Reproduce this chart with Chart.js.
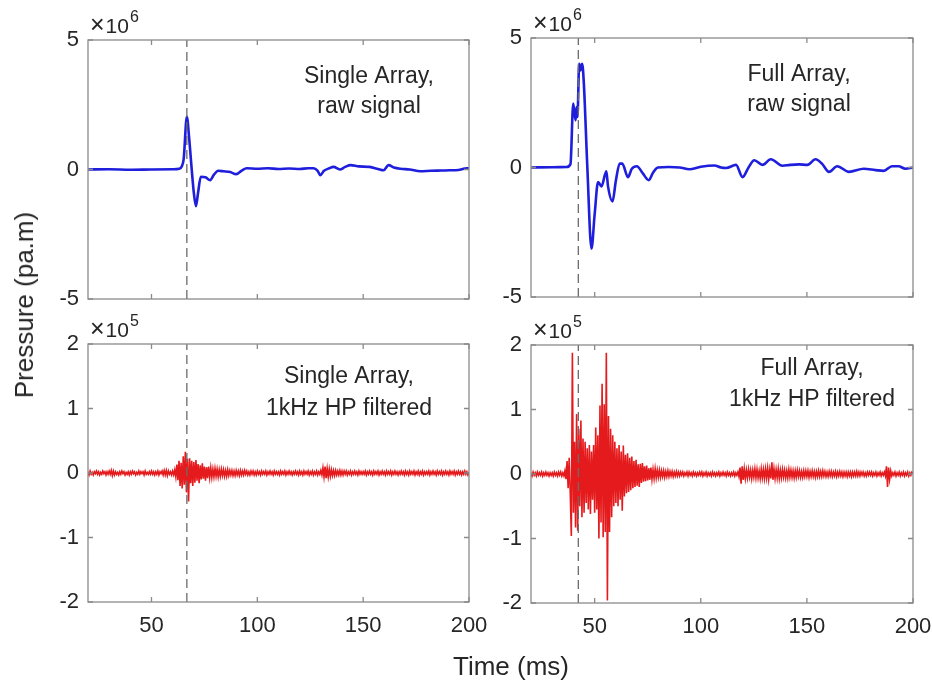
<!DOCTYPE html>
<html>
<head>
<meta charset="utf-8">
<script src="https://cdn.jsdelivr.net/npm/chart.js@4.4.0/dist/chart.umd.min.js"></script>
<style>
  body { margin: 0; background: #fff; }
  #wrap { position: relative; width: 932px; height: 683px; font-family: "Liberation Sans", Arial, sans-serif; color: #262626; }
  canvas { position: absolute; }
  .axis-label { position: absolute; font-size: 26px; line-height: 26px; white-space: nowrap; }
</style>
</head>
<body>
<div id="wrap">
  <canvas id="singleRaw" width="478" height="320" style="left:0;top:0"></canvas>
  <canvas id="fullRaw" width="454" height="320" style="left:478px;top:0"></canvas>
  <canvas id="singleHp" width="500" height="383" style="left:0;top:300px"></canvas>
  <canvas id="fullHp" width="454" height="383" style="left:478px;top:300px"></canvas>
  <div class="axis-label" id="ylab">Pressure (pa.m)</div>
  <div class="axis-label" id="xlab">Time (ms)</div>
</div>
<script>
// axes
const xTicks = [50, 100, 150, 200];
const rawYTicks = [-5, 0, 5];
const hpYTicks = [-2, -1, 0, 1, 2];

// arrival markers (ms)
const singleMarkerTime = 66.7;
const fullMarkerTime = 42.3;

// raw signals, x10^6 pa.m
const singleRawTime = [20, 30, 40, 50, 60, 63, 64.3, 65.2, 66.7, 67.8, 69, 70, 71, 72, 73.3, 75.5, 77.7, 79.5, 81.6, 84,
  87.2, 90, 92.5, 95, 100, 105, 110, 115, 120, 124, 126.5, 128.5, 129.7, 131.5, 134, 136, 139, 141.5, 144, 148,
  153, 157, 159.6, 162, 164.5, 167.6, 172, 177, 182, 187, 191, 195, 198, 200];
const singleRawValues = [0, 0.01, -0.01, 0, 0.01, 0.03, 0.12, 0.4, 2.03, 1.2, 0, -0.9, -1.42, -0.9, -0.28, -0.3, -0.41, -0.2, -0.05, -0.07,
  -0.1, -0.18, -0.05, 0.05, 0.03, 0.05, 0.02, 0.04, 0.02, 0.05, 0.05, -0.05, -0.22, -0.05, 0.05, 0.1, 0, 0.1, 0.17, 0.12,
  0.1, 0.02, -0.03, 0.17, 0.08, 0.03, 0, -0.07, -0.05, -0.04, -0.03, -0.02, 0.04, 0.05];

const fullRawTime = [20, 30, 36.8, 38.6, 39.9, 41, 41.5, 41.9, 42.7, 43.3, 44.1, 44.9, 46.5, 48.5, 50, 51.6, 53.2, 55.5, 56.3, 58.4,
  60, 61.8, 63, 65.7, 67.5, 69.9, 72.7, 75.5, 77.5, 79.8, 85, 90, 94.6, 100, 106.4, 109.5, 111.9, 116.6, 119.7, 122.5,
  125.2, 129.1, 133, 138.5, 142, 146.3, 150.2, 154.1, 157.2, 160.4, 164.3, 169.8, 176.8, 182.3, 186.2, 190.1, 193.2, 196.4, 200];
const fullRawValues = [0, 0.01, 0.02, 0.13, 2.47, 1.82, 2.33, 1.95, 4.0, 3.75, 4.0, 3.25, 0.1, -3.13, -1.8, -0.56, -0.73, -0.15, -0.73, -1.31,
  -0.5, 0.15, 0.15, -0.37, -0.05, 0.05, -0.23, -0.49, -0.2, 0, 0.02, 0, -0.07, 0.03, 0.08, 0, -0.02, 0.1, -0.37, 0,
  0.28, 0.1, 0.32, 0.07, 0.1, 0.12, 0.1, 0.32, 0.14, -0.17, 0.05, -0.17, -0.05, -0.1, -0.13, 0.05, 0.05, -0.05, 0];

// 1kHz high-pass signals, x10^5 pa.m, one sample every 0.5 ms from 20 ms
const hpStart = 20;
const hpStep = 0.5;
const singleHpValues = [
  0.02,-0.03,0.03,-0.02,0.01,-0.03,0.02,-0.01,0.03,-0.02,0.02,-0.03,0.01,-0.02,0.03,-0.01,0.02,-0.03,0.02,-0.02,
  0.03,-0.02,0.04,-0.04,0.03,-0.03,0.02,-0.02,0.01,-0.03,0.02,-0.02,0.03,-0.01,0.02,-0.03,0.01,-0.02,0.02,-0.03,
  0.02,-0.02,0.03,-0.01,0.02,-0.03,0.01,-0.02,0.03,-0.02,0.02,-0.01,0.02,-0.03,0.03,-0.02,0.01,-0.02,0.02,-0.02,
  0.03,-0.02,0.02,-0.03,0.02,-0.02,0.03,-0.03,0.02,-0.01,0.03,-0.03,0.04,-0.03,0.04,-0.04,0.03,-0.02,0.02,-0.03,
  0.03,-0.03,0.05,-0.06,0.13,-0.11,0.19,-0.2,0.16,-0.24,0.26,-0.18,0.33,-0.3,0.22,-0.44,0.23,-0.16,0.19,-0.2,
  0.17,-0.15,0.2,-0.12,0.14,-0.16,0.12,-0.1,0.15,-0.09,0.1,-0.12,0.09,-0.08,0.1,-0.07,0.08,-0.07,0.06,-0.06,
  0.07,-0.05,0.06,-0.06,0.05,-0.05,0.06,-0.04,0.05,-0.05,0.04,-0.05,0.05,-0.04,0.04,-0.03,0.04,-0.04,0.03,-0.04,
  0.04,-0.03,0.03,-0.04,0.04,-0.03,0.03,-0.03,0.04,-0.02,0.03,-0.03,0.02,-0.03,0.03,-0.02,0.03,-0.03,0.02,-0.03,
  0.03,-0.02,0.02,-0.03,0.03,-0.02,0.02,-0.02,0.03,-0.03,0.02,-0.02,0.03,-0.02,0.02,-0.03,0.03,-0.02,0.02,-0.02,
  0.02,-0.03,0.03,-0.02,0.02,-0.02,0.03,-0.03,0.02,-0.02,0.03,-0.02,0.02,-0.03,0.02,-0.02,0.03,-0.02,0.02,-0.03,
  0.03,-0.02,0.02,-0.03,0.03,-0.02,0.02,-0.02,0.03,-0.03,0.02,-0.02,0.03,-0.03,0.02,-0.02,0.03,-0.03,0.02,-0.02,
  0.04,-0.03,0.08,-0.06,0.1,-0.08,0.07,-0.06,0.06,-0.05,0.05,-0.04,0.04,-0.04,0.04,-0.03,0.03,-0.03,0.04,-0.03,
  0.03,-0.03,0.03,-0.02,0.03,-0.03,0.02,-0.02,0.03,-0.03,0.02,-0.02,0.03,-0.02,0.02,-0.03,0.03,-0.02,0.02,-0.02,
  0.02,-0.02,0.03,-0.03,0.02,-0.02,0.03,-0.02,0.02,-0.03,0.03,-0.02,0.02,-0.02,0.03,-0.03,0.02,-0.02,0.03,-0.02,
  0.02,-0.03,0.03,-0.02,0.02,-0.02,0.03,-0.03,0.02,-0.02,0.03,-0.02,0.02,-0.03,0.02,-0.02,0.03,-0.02,0.02,-0.03,
  0.03,-0.02,0.02,-0.03,0.03,-0.02,0.02,-0.02,0.03,-0.03,0.02,-0.02,0.03,-0.03,0.02,-0.02,0.03,-0.03,0.02,-0.02,
  0.02,-0.02,0.03,-0.03,0.02,-0.02,0.03,-0.02,0.02,-0.03,0.03,-0.02,0.02,-0.02,0.03,-0.03,0.02,-0.02,0.03,-0.02,
  0.02,-0.03,0.03,-0.02,0.02,-0.02,0.03,-0.03,0.02,-0.02,0.03,-0.02,0.02,-0.03,0.02,-0.02,0.03,-0.02,0.02,-0.03,
  0.01];
const fullHpValues = [
  0.02,-0.03,0.03,-0.02,0.02,-0.03,0.03,-0.02,0.02,-0.02,0.03,-0.03,0.02,-0.02,0.03,-0.02,0.02,-0.03,0.02,-0.02,
  0.02,-0.03,0.03,-0.02,0.02,-0.03,0.03,-0.02,0.03,-0.03,0.02,-0.03,0.05,-0.08,0.2,-0.22,0.25,-0.3,-0.96,1.88,
  -0.6,0.5,-0.83,0.93,-0.88,0.7,-0.5,0.83,-0.67,0.55,-0.6,0.5,-0.45,0.4,-0.55,0.45,-0.62,0.35,-0.4,0.45,
  -0.6,0.72,-0.55,0.6,-1.0,1.06,-0.75,1.4,-0.98,1.08,-0.9,1.88,-1.96,0.9,-0.9,0.7,-0.67,0.6,-0.5,0.5,
  -0.45,0.4,-0.5,0.45,-0.4,0.35,-0.57,0.44,-0.35,0.3,-0.3,0.32,-0.28,0.25,-0.25,0.27,-0.22,0.2,-0.2,0.22,
  -0.18,0.15,-0.2,0.16,-0.14,0.17,-0.12,0.12,-0.11,0.13,-0.1,0.09,-0.09,0.1,-0.08,0.07,-0.07,0.08,-0.06,0.06,
  -0.05,0.06,-0.05,0.05,-0.04,0.05,-0.05,0.04,-0.04,0.05,-0.04,0.04,-0.03,0.04,-0.04,0.03,-0.03,0.04,-0.03,0.03,
  -0.03,0.03,-0.02,0.03,-0.03,0.02,-0.02,0.03,-0.03,0.03,-0.02,0.02,-0.03,0.03,-0.02,0.02,-0.03,0.02,-0.02,0.03,
  -0.02,0.03,-0.03,0.02,-0.02,0.03,-0.03,0.02,-0.02,0.02,-0.03,0.03,-0.02,0.02,-0.03,0.02,-0.02,0.03,-0.03,0.02,
  -0.02,0.03,-0.02,0.02,-0.03,0.03,-0.02,0.02,-0.03,0.02,-0.02,0.03,-0.03,0.02,-0.02,0.03,-0.04,0.1,-0.15,0.12,
  -0.09,0.08,-0.07,0.06,-0.06,0.07,-0.05,0.06,-0.07,0.06,-0.05,0.08,-0.06,0.07,-0.06,0.05,-0.07,0.08,-0.06,0.07,
  -0.07,0.08,-0.06,0.09,-0.08,0.07,-0.07,0.18,-0.09,0.08,-0.07,0.07,-0.06,0.08,-0.07,0.06,-0.06,0.07,-0.05,0.06,
  -0.06,0.05,-0.06,0.07,-0.05,0.06,-0.05,0.05,-0.06,0.05,-0.05,0.06,-0.04,0.05,-0.05,0.04,-0.05,0.05,-0.04,0.05,
  -0.04,0.05,-0.05,0.04,-0.04,0.05,-0.04,0.04,-0.05,0.04,-0.04,0.05,-0.04,0.04,-0.04,0.05,-0.03,0.04,-0.04,0.03,
  -0.04,0.04,-0.03,0.04,-0.04,0.03,-0.03,0.04,-0.04,0.03,-0.03,0.04,-0.03,0.03,-0.04,0.03,-0.03,0.03,-0.04,0.03,
  -0.03,0.03,-0.04,0.03,-0.03,0.03,-0.03,0.04,-0.03,0.03,-0.03,0.03,-0.02,0.03,-0.03,0.02,-0.03,0.03,-0.02,0.03,
  -0.02,0.03,-0.03,0.02,-0.02,0.03,-0.03,0.02,-0.02,0.03,-0.03,0.02,-0.02,0.03,-0.03,0.12,-0.2,0.1,-0.08,0.05,
  -0.03,0.02,-0.02,0.03,-0.03,0.02,-0.02,0.03,-0.03,0.02,-0.02,0.03,-0.03,0.02,-0.02,0.03,-0.03,0.02,-0.02,0.03,
  0.01];

const fontFamily = '"Liberation Sans", Arial, sans-serif';
const textColor = '#262626';
const axisColor = '#8a8a8a';
const markerColor = '#6b6b6b';
const rawColor = '#1e1edc';
const hpColor = '#e41a1c';

// ylab / xlab placement
const ylab = document.getElementById('ylab');
ylab.style.left = '24px';
ylab.style.top = '305px';
ylab.style.transform = 'translate(-50%, -50%) rotate(-90deg)';
const xlab = document.getElementById('xlab');
xlab.style.left = '511px';
xlab.style.top = '653px';
xlab.style.transform = 'translateX(-50%)';

function toPoints(times, values) {
  return values.map((v, i) => ({ x: times[i], y: v }));
}

function hpPoints(values) {
  return values.map((v, i) => ({ x: hpStart + i * hpStep, y: v }));
}

// MATLAB-like box, inward ticks, exponent label and text note
const matlabAxes = {
  id: 'matlabAxes',
  afterDatasetsDraw(chart, args, opts) {
    const { ctx, chartArea: a } = chart;
    const x = chart.scales.x, y = chart.scales.y;
    ctx.save();
    ctx.strokeStyle = axisColor;
    ctx.lineWidth = 1.3;
    ctx.strokeRect(a.left, a.top, a.right - a.left, a.bottom - a.top);
    ctx.beginPath();
    x.ticks.forEach(t => {
      const px = x.getPixelForValue(t.value);
      ctx.moveTo(px, a.bottom); ctx.lineTo(px, a.bottom - 5);
      ctx.moveTo(px, a.top); ctx.lineTo(px, a.top + 5);
    });
    y.ticks.forEach(t => {
      const py = y.getPixelForValue(t.value);
      ctx.moveTo(a.left, py); ctx.lineTo(a.left + 5, py);
      ctx.moveTo(a.right, py); ctx.lineTo(a.right - 5, py);
    });
    ctx.stroke();

    ctx.fillStyle = textColor;
    ctx.textAlign = 'left';
    ctx.textBaseline = 'alphabetic';
    ctx.font = '25px ' + fontFamily;
    ctx.fillText('\u00d7', a.left + 2, a.top - 7);
    let cx = a.left + 2 + ctx.measureText('\u00d7').width + 1;
    ctx.font = '21px ' + fontFamily;
    ctx.fillText('10', cx, a.top - 7);
    cx += ctx.measureText('10').width + 1;
    ctx.font = '16px ' + fontFamily;
    ctx.fillText(opts.exponent, cx, a.top - 18);

    ctx.font = '23px ' + fontFamily;
    ctx.textAlign = 'center';
    opts.note.forEach((line, i) => ctx.fillText(line, opts.noteX, opts.noteY[i]));
    ctx.restore();
  }
};

function makePanel(id, cfg) {
  const tickFont = { family: fontFamily, size: 22 };
  return new Chart(document.getElementById(id), {
    type: 'line',
    data: {
      datasets: [
        {
          data: [{ x: cfg.markerTime, y: cfg.yMin }, { x: cfg.markerTime, y: cfg.yMax }],
          borderColor: markerColor, borderWidth: 1.3, borderDash: [9, 5], pointRadius: 0
        },
        {
          data: cfg.points,
          borderColor: cfg.color, borderWidth: cfg.lineWidth, pointRadius: 0,
          cubicInterpolationMode: cfg.smooth ? 'monotone' : 'default', tension: 0
        }
      ]
    },
    options: {
      responsive: false,
      animation: false,
      events: [],
      layout: { padding: { top: cfg.padTop, right: cfg.padRight, left: 0, bottom: 0 } },
      plugins: {
        legend: { display: false },
        tooltip: { enabled: false },
        matlabAxes: { exponent: cfg.exponent, note: cfg.note, noteX: cfg.noteX, noteY: cfg.noteY }
      },
      scales: {
        x: {
          type: 'linear', min: 20, max: 200,
          afterBuildTicks: s => { s.ticks = xTicks.map(v => ({ value: v })); },
          afterFit: s => { s.height = cfg.xHeight; s.paddingLeft = 0; s.paddingRight = 0; },
          grid: { display: false, drawTicks: false },
          border: { display: false },
          ticks: { display: cfg.showX, padding: 11, maxRotation: 0, font: tickFont, color: textColor }
        },
        y: {
          type: 'linear', min: cfg.yMin, max: cfg.yMax,
          afterBuildTicks: s => { s.ticks = cfg.yTicks.map(v => ({ value: v })); },
          afterFit: s => { s.width = cfg.yWidth; s.paddingTop = 0; s.paddingBottom = 0; },
          grid: { display: false, drawTicks: false },
          border: { display: false },
          ticks: { padding: 9, font: tickFont, color: textColor }
        }
      }
    },
    plugins: [matlabAxes]
  });
}

makePanel('singleRaw', {
  points: toPoints(singleRawTime, singleRawValues), color: rawColor, lineWidth: 2.6, smooth: true,
  markerTime: singleMarkerTime, yMin: -5, yMax: 5, yTicks: rawYTicks, exponent: '6',
  padTop: 40, padRight: 9, xHeight: 21, yWidth: 88, showX: false,
  note: ['Single Array,', 'raw signal'], noteX: 369, noteY: [83, 113]
});
makePanel('fullRaw', {
  points: toPoints(fullRawTime, fullRawValues), color: rawColor, lineWidth: 2.6, smooth: true,
  markerTime: fullMarkerTime, yMin: -5, yMax: 5, yTicks: rawYTicks, exponent: '6',
  padTop: 38, padRight: 19, xHeight: 23, yWidth: 53, showX: false,
  note: ['Full Array,', 'raw signal'], noteX: 321, noteY: [81, 111]
});
makePanel('singleHp', {
  points: hpPoints(singleHpValues), color: hpColor, lineWidth: 1.6, smooth: false,
  markerTime: singleMarkerTime, yMin: -2, yMax: 2, yTicks: hpYTicks, exponent: '5',
  padTop: 44, padRight: 31, xHeight: 81, yWidth: 88, showX: true,
  note: ['Single Array,', '1kHz HP filtered'], noteX: 349, noteY: [83, 115]
});
makePanel('fullHp', {
  points: hpPoints(fullHpValues), color: hpColor, lineWidth: 1.6, smooth: false,
  markerTime: fullMarkerTime, yMin: -2, yMax: 2, yTicks: hpYTicks, exponent: '5',
  padTop: 45, padRight: 19, xHeight: 80, yWidth: 53, showX: true,
  note: ['Full Array,', '1kHz HP filtered'], noteX: 334, noteY: [75, 106]
});
</script>
</body>
</html>
